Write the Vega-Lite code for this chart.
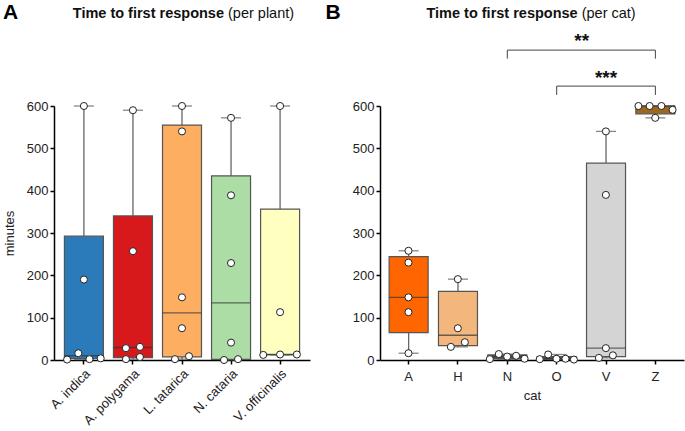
{
  "$schema": "https://vega.github.io/schema/vega-lite/v6.json",
  "background": "white",
  "padding": {"left": 2, "top": 1, "right": 2, "bottom": 5},
  "bounds": "flush",
  "spacing": 70,
  "resolve": {"scale": {"fill": "independent"}},
  "config": {
    "view": {"stroke": null},
    "font": "Liberation Sans",
    "axis": {
      "domainColor": "#000", "domainWidth": 1.5, "tickColor": "#000", "tickWidth": 1.5, "tickSize": 4,
      "labelColor": "#222", "labelFontSize": 13, "labelFont": "Liberation Sans",
      "titleColor": "#222", "titleFontSize": 13, "titleFontWeight": "normal", "titleFont": "Liberation Sans",
      "grid": false, "labelPadding": 2
    }
  },
  "datasets": {
    "plantBoxes": [
      {"plant": "A. indica", "min": 1, "q1": 3.5, "median": 10, "q3": 292.5, "max": 600},
      {"plant": "A. polygama", "min": 2, "q1": 5.75, "median": 29.5, "q3": 340.25, "max": 590},
      {"plant": "L. tatarica", "min": 2, "q1": 7.25, "median": 111.5, "q3": 555, "max": 600},
      {"plant": "N. cataria", "min": 0, "q1": 1.5, "median": 135, "q3": 434.75, "max": 572},
      {"plant": "V. officinalis", "min": 12, "q1": 12.5, "median": 13, "q3": 356.5, "max": 600}
    ],
    "plantPoints": [
      {"plant": "A. indica", "minutes": 600, "lane": 0},
      {"plant": "A. indica", "minutes": 190, "lane": 0},
      {"plant": "A. indica", "minutes": 16, "lane": -1},
      {"plant": "A. indica", "minutes": 1, "lane": -3},
      {"plant": "A. indica", "minutes": 2, "lane": 1},
      {"plant": "A. indica", "minutes": 4, "lane": 3},
      {"plant": "A. polygama", "minutes": 590, "lane": 0},
      {"plant": "A. polygama", "minutes": 257, "lane": 0},
      {"plant": "A. polygama", "minutes": 28, "lane": -1.25},
      {"plant": "A. polygama", "minutes": 31, "lane": 1.25},
      {"plant": "A. polygama", "minutes": 2, "lane": -1.25},
      {"plant": "A. polygama", "minutes": 7, "lane": 1.25},
      {"plant": "L. tatarica", "minutes": 600, "lane": 0},
      {"plant": "L. tatarica", "minutes": 540, "lane": 0},
      {"plant": "L. tatarica", "minutes": 148, "lane": 0},
      {"plant": "L. tatarica", "minutes": 75, "lane": 0},
      {"plant": "L. tatarica", "minutes": 2, "lane": -1.25},
      {"plant": "L. tatarica", "minutes": 9, "lane": 1.25},
      {"plant": "N. cataria", "minutes": 572, "lane": 0},
      {"plant": "N. cataria", "minutes": 389, "lane": 0},
      {"plant": "N. cataria", "minutes": 229, "lane": 0},
      {"plant": "N. cataria", "minutes": 41, "lane": 0},
      {"plant": "N. cataria", "minutes": 0, "lane": -1.25},
      {"plant": "N. cataria", "minutes": 2, "lane": 1.25},
      {"plant": "V. officinalis", "minutes": 600, "lane": 0},
      {"plant": "V. officinalis", "minutes": 113, "lane": 0},
      {"plant": "V. officinalis", "minutes": 12, "lane": -3},
      {"plant": "V. officinalis", "minutes": 13, "lane": 0},
      {"plant": "V. officinalis", "minutes": 13, "lane": 3}
    ],
    "catBoxes": [
      {"cat": "A", "min": 16, "q1": 64.5, "median": 148, "q3": 244, "max": 258},
      {"cat": "H", "min": 31, "q1": 33.75, "median": 58.5, "q3": 162, "max": 191},
      {"cat": "N", "min": 2, "q1": 2.5, "median": 8, "q3": 12, "max": 14},
      {"cat": "O", "min": 1, "q1": 1.5, "median": 3, "q3": 8, "max": 13},
      {"cat": "V", "min": 5, "q1": 8, "median": 28, "q3": 465, "max": 540},
      {"cat": "Z", "min": 572, "q1": 581.5, "median": 600, "q3": 600, "max": 600}
    ],
    "catPoints": [
      {"cat": "A", "minutes": 258, "lane": 0},
      {"cat": "A", "minutes": 230, "lane": 0},
      {"cat": "A", "minutes": 148, "lane": 0},
      {"cat": "A", "minutes": 113, "lane": 0},
      {"cat": "A", "minutes": 16, "lane": 0},
      {"cat": "H", "minutes": 191, "lane": 0},
      {"cat": "H", "minutes": 75, "lane": 0},
      {"cat": "H", "minutes": 31, "lane": -1.25},
      {"cat": "H", "minutes": 42, "lane": 1.25},
      {"cat": "N", "minutes": 2, "lane": -3.1},
      {"cat": "N", "minutes": 14, "lane": -1.5},
      {"cat": "N", "minutes": 8, "lane": 0},
      {"cat": "N", "minutes": 10, "lane": 1.6},
      {"cat": "N", "minutes": 3, "lane": 3.1},
      {"cat": "O", "minutes": 2, "lane": -3},
      {"cat": "O", "minutes": 13, "lane": -1.5},
      {"cat": "O", "minutes": 3, "lane": 0},
      {"cat": "O", "minutes": 3, "lane": 1.6},
      {"cat": "O", "minutes": 1, "lane": 3.1},
      {"cat": "V", "minutes": 540, "lane": 0},
      {"cat": "V", "minutes": 390, "lane": 0},
      {"cat": "V", "minutes": 28, "lane": 0},
      {"cat": "V", "minutes": 5, "lane": -1.25},
      {"cat": "V", "minutes": 11, "lane": 1.25},
      {"cat": "Z", "minutes": 600, "lane": -3},
      {"cat": "Z", "minutes": 600, "lane": -1},
      {"cat": "Z", "minutes": 600, "lane": 1.1},
      {"cat": "Z", "minutes": 591, "lane": 3.1},
      {"cat": "Z", "minutes": 572, "lane": 0}
    ]
  },
  "hconcat": [
    {
      "width": 256,
      "height": 254,
      "layer": [
        {
          "data": {"name": "plantBoxes"},
          "mark": {"type": "rule", "color": "#666", "strokeWidth": 1.3},
          "encoding": {
            "x": {"field": "plant", "type": "nominal", "scale": {"paddingInner": 0.2, "paddingOuter": 0.21},
                  "axis": {"title": null, "labelAngle": -45, "labelAlign": "right", "labelBaseline": "top", "labelPadding": 3}},
            "y": {"field": "q3", "type": "quantitative", "scale": {"domain": [0, 600], "nice": false},
                  "axis": {"title": "minutes", "values": [0, 100, 200, 300, 400, 500, 600], "titlePadding": 10}},
            "y2": {"field": "max"}
          }
        },
        {
          "data": {"name": "plantBoxes"},
          "mark": {"type": "rule", "color": "#666", "strokeWidth": 1.3},
          "encoding": {
            "x": {"field": "plant", "type": "nominal"},
            "y": {"field": "min", "type": "quantitative"},
            "y2": {"field": "q1"}
          }
        },
        {
          "data": {"name": "plantBoxes"},
          "mark": {"type": "bar", "stroke": "#555", "strokeWidth": 1.2, "width": 39},
          "encoding": {
            "x": {"field": "plant", "type": "nominal"},
            "y": {"field": "q1", "type": "quantitative"},
            "y2": {"field": "q3"},
            "fill": {"field": "plant", "type": "nominal", "legend": null,
                     "scale": {"domain": ["A. indica", "A. polygama", "L. tatarica", "N. cataria", "V. officinalis"],
                               "range": ["#2b7bba", "#d7191c", "#fdae61", "#abdda4", "#ffffbf"]}}
          }
        },
        {
          "data": {"name": "plantBoxes"},
          "mark": {"type": "tick", "color": "#333", "thickness": 1.3, "size": 39},
          "encoding": {
            "x": {"field": "plant", "type": "nominal"},
            "y": {"field": "median", "type": "quantitative"}
          }
        },
        {
          "data": {"name": "plantBoxes"},
          "mark": {"type": "tick", "color": "#555", "thickness": 1.3, "size": 20},
          "encoding": {
            "x": {"field": "plant", "type": "nominal"},
            "y": {"field": "max", "type": "quantitative"}
          }
        },
        {
          "data": {"name": "plantBoxes"},
          "mark": {"type": "tick", "color": "#555", "thickness": 1.3, "size": 20},
          "encoding": {
            "x": {"field": "plant", "type": "nominal"},
            "y": {"field": "min", "type": "quantitative"}
          }
        },
        {
          "data": {"name": "plantPoints"},
          "mark": {"type": "point", "shape": "circle", "filled": true, "fill": "white", "stroke": "#222", "strokeWidth": 1, "size": 50, "opacity": 1},
          "encoding": {
            "x": {"field": "plant", "type": "nominal"},
            "xOffset": {"field": "lane", "type": "quantitative", "scale": {"domain": [-3, 3], "range": [2.8, 36.4]}},
            "y": {"field": "minutes", "type": "quantitative"}
          }
        },
        {
          "data": {"values": [{}]},
          "mark": {"type": "text", "text": "Time to first response", "fontWeight": "bold", "fontSize": 14.5, "align": "right", "baseline": "middle", "dx": 42, "color": "#111"},
          "encoding": {
            "x": {"datum": "L. tatarica", "type": "nominal"},
            "y": {"datum": 817, "type": "quantitative"}
          }
        },
        {
          "data": {"values": [{}]},
          "mark": {"type": "text", "text": "(per plant)", "fontSize": 14.5, "align": "left", "baseline": "middle", "dx": 46, "color": "#111"},
          "encoding": {
            "x": {"datum": "L. tatarica", "type": "nominal"},
            "y": {"datum": 817, "type": "quantitative"}
          }
        },
        {
          "data": {"values": [{}]},
          "mark": {"type": "text", "text": "A", "fontWeight": "bold", "fontSize": 21, "align": "left", "baseline": "middle", "dx": -81, "color": "#000"},
          "encoding": {
            "x": {"datum": "A. indica", "type": "nominal"},
            "y": {"datum": 820, "type": "quantitative"}
          }
        }
      ]
    },
    {
      "width": 304,
      "height": 254,
      "layer": [
        {
          "data": {"name": "catBoxes"},
          "mark": {"type": "rule", "color": "#666", "strokeWidth": 1.3},
          "encoding": {
            "x": {"field": "cat", "type": "nominal", "scale": {"paddingInner": 0.2, "paddingOuter": 0.18},
                  "axis": {"title": "cat", "labelAngle": 0, "labelPadding": 6, "titlePadding": 6}},
            "y": {"field": "q3", "type": "quantitative", "scale": {"domain": [0, 600], "nice": false},
                  "axis": {"title": null, "values": [0, 100, 200, 300, 400, 500, 600]}},
            "y2": {"field": "max"}
          }
        },
        {
          "data": {"name": "catBoxes"},
          "mark": {"type": "rule", "color": "#666", "strokeWidth": 1.3},
          "encoding": {
            "x": {"field": "cat", "type": "nominal"},
            "y": {"field": "min", "type": "quantitative"},
            "y2": {"field": "q1"}
          }
        },
        {
          "data": {"name": "catBoxes"},
          "mark": {"type": "bar", "stroke": "#555", "strokeWidth": 1.2, "width": 39},
          "encoding": {
            "x": {"field": "cat", "type": "nominal"},
            "y": {"field": "q1", "type": "quantitative"},
            "y2": {"field": "q3"},
            "fill": {"field": "cat", "type": "nominal", "legend": null,
                     "scale": {"domain": ["A", "H", "N", "O", "V", "Z"],
                               "range": ["#ff6600", "#f3b77e", "#555555", "#555555", "#d4d4d4", "#a0661c"]}}
          }
        },
        {
          "data": {"name": "catBoxes"},
          "mark": {"type": "tick", "color": "#333", "thickness": 1.3, "size": 39},
          "encoding": {
            "x": {"field": "cat", "type": "nominal"},
            "y": {"field": "median", "type": "quantitative"}
          }
        },
        {
          "data": {"name": "catBoxes"},
          "mark": {"type": "tick", "color": "#555", "thickness": 1.3, "size": 20},
          "encoding": {
            "x": {"field": "cat", "type": "nominal"},
            "y": {"field": "max", "type": "quantitative"}
          }
        },
        {
          "data": {"name": "catBoxes"},
          "mark": {"type": "tick", "color": "#555", "thickness": 1.3, "size": 20},
          "encoding": {
            "x": {"field": "cat", "type": "nominal"},
            "y": {"field": "min", "type": "quantitative"}
          }
        },
        {
          "data": {"name": "catPoints"},
          "mark": {"type": "point", "shape": "circle", "filled": true, "fill": "white", "stroke": "#222", "strokeWidth": 1, "size": 50, "opacity": 1},
          "encoding": {
            "x": {"field": "cat", "type": "nominal"},
            "xOffset": {"field": "lane", "type": "quantitative", "scale": {"domain": [-3, 3], "range": [2.9, 36.5]}},
            "y": {"field": "minutes", "type": "quantitative"}
          }
        },
        {
          "data": {"values": [{}]},
          "mark": {"type": "rule", "color": "#444", "strokeWidth": 1},
          "encoding": {
            "x": {"datum": "N", "type": "nominal"},
            "x2": {"datum": "Z"},
            "y": {"datum": 732, "type": "quantitative"}
          }
        },
        {
          "data": {"values": [{}]},
          "mark": {"type": "rule", "color": "#444", "strokeWidth": 1},
          "encoding": {
            "x": {"datum": "N", "type": "nominal"},
            "y": {"datum": 712, "type": "quantitative"},
            "y2": {"datum": 732}
          }
        },
        {
          "data": {"values": [{}]},
          "mark": {"type": "rule", "color": "#444", "strokeWidth": 1},
          "encoding": {
            "x": {"datum": "Z", "type": "nominal"},
            "y": {"datum": 712, "type": "quantitative"},
            "y2": {"datum": 732}
          }
        },
        {
          "data": {"values": [{}]},
          "mark": {"type": "rule", "color": "#444", "strokeWidth": 1},
          "encoding": {
            "x": {"datum": "O", "type": "nominal"},
            "x2": {"datum": "Z"},
            "y": {"datum": 647, "type": "quantitative"}
          }
        },
        {
          "data": {"values": [{}]},
          "mark": {"type": "rule", "color": "#444", "strokeWidth": 1},
          "encoding": {
            "x": {"datum": "O", "type": "nominal"},
            "y": {"datum": 626, "type": "quantitative"},
            "y2": {"datum": 647}
          }
        },
        {
          "data": {"values": [{}]},
          "mark": {"type": "rule", "color": "#444", "strokeWidth": 1},
          "encoding": {
            "x": {"datum": "Z", "type": "nominal"},
            "y": {"datum": 626, "type": "quantitative"},
            "y2": {"datum": 647}
          }
        },
        {
          "data": {"values": [{}]},
          "mark": {"type": "text", "text": "**", "fontWeight": "bold", "fontSize": 19, "align": "center", "baseline": "middle", "dx": 25, "dy": 4, "color": "#111"},
          "encoding": {
            "x": {"datum": "O", "type": "nominal"},
            "y": {"datum": 763, "type": "quantitative"}
          }
        },
        {
          "data": {"values": [{}]},
          "mark": {"type": "text", "text": "***", "fontWeight": "bold", "fontSize": 19, "align": "center", "baseline": "middle", "dy": 4, "color": "#111"},
          "encoding": {
            "x": {"datum": "V", "type": "nominal"},
            "y": {"datum": 676, "type": "quantitative"}
          }
        },
        {
          "data": {"values": [{}]},
          "mark": {"type": "text", "text": "Time to first response", "fontWeight": "bold", "fontSize": 14.5, "align": "right", "baseline": "middle", "dx": 21, "color": "#111"},
          "encoding": {
            "x": {"datum": "O", "type": "nominal"},
            "y": {"datum": 817, "type": "quantitative"}
          }
        },
        {
          "data": {"values": [{}]},
          "mark": {"type": "text", "text": "(per cat)", "fontSize": 14.5, "align": "left", "baseline": "middle", "dx": 25, "color": "#111"},
          "encoding": {
            "x": {"datum": "O", "type": "nominal"},
            "y": {"datum": 817, "type": "quantitative"}
          }
        },
        {
          "data": {"values": [{}]},
          "mark": {"type": "text", "text": "B", "fontWeight": "bold", "fontSize": 21, "align": "left", "baseline": "middle", "dx": -83, "color": "#000"},
          "encoding": {
            "x": {"datum": "A", "type": "nominal"},
            "y": {"datum": 820, "type": "quantitative"}
          }
        }
      ]
    }
  ]
}
